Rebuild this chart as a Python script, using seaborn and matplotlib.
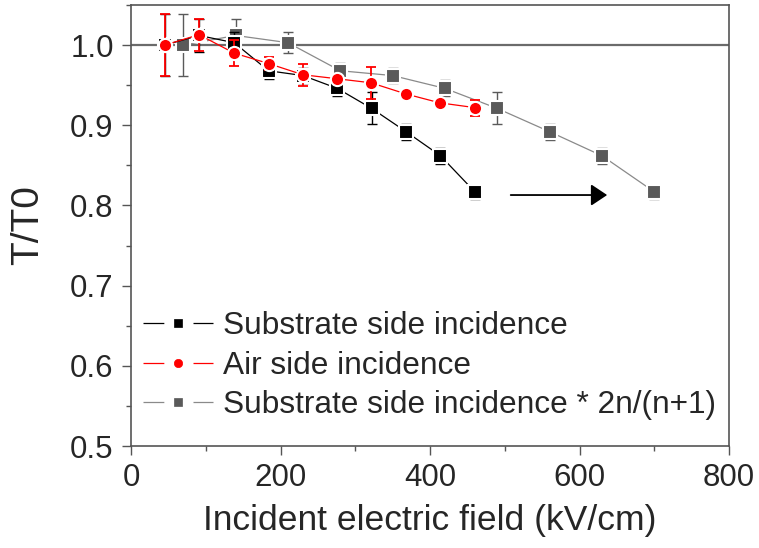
import matplotlib
matplotlib.use("Agg")
import matplotlib.pyplot as plt
import seaborn as sns
from matplotlib.lines import Line2D
from matplotlib.legend_handler import HandlerTuple
from matplotlib.ticker import MultipleLocator, FormatStrFormatter

# ---- data ----
sub_field = [45, 91, 138, 184, 230, 276, 322, 368, 414, 460]
sub_ratio = [1.000, 1.012, 1.003, 0.968, 0.962, 0.946, 0.921, 0.892, 0.862, 0.817]
sub_err = [0.039, 0.020, 0.013, 0.010, 0.009, 0.010, 0.020, 0.010, 0.010, 0.009]

air_field = [45, 91, 138, 184, 230, 276, 321, 368, 413, 460]
air_ratio = [1.000, 1.013, 0.990, 0.977, 0.963, 0.958, 0.953, 0.939, 0.928, 0.922]
air_err = [0.039, 0.020, 0.016, 0.008, 0.014, 0.004, 0.020, 0.003, 0.004, 0.010]

scaled_field = [70, 140, 210, 280, 350, 420, 490, 560, 630, 700]
scaled_ratio = [1.000, 1.012, 1.003, 0.968, 0.962, 0.946, 0.921, 0.892, 0.862, 0.817]
scaled_err = [0.039, 0.020, 0.013, 0.010, 0.009, 0.010, 0.020, 0.010, 0.010, 0.009]

labels = ["Substrate side incidence", "Air side incidence",
          "Substrate side incidence * 2n/(n+1)"]
arrow_start = (508, 0.813)
arrow_end = (637, 0.813)
reference_level = 1.0

# ---- style ----
sns.set_style("ticks")
plt.rcParams['font.family'] = ['Liberation Sans', 'DejaVu Sans']
plt.rcParams['lines.scale_dashes'] = False

fig = plt.figure(figsize=(7.59, 5.48), dpi=100)
ax = fig.add_axes([131/759, 1-446/548, (729-131)/759, (446-5)/548])

series = [
    # field, ratio, err, line color, marker color, marker, zorder, err width
    (scaled_field, scaled_ratio, scaled_err, "#8a8a8a", "#5a5a5a", "s", 3, 1.0),
    (sub_field, sub_ratio, sub_err, "#000000", "#000000", "s", 4, 1.0),
    (air_field, air_ratio, air_err, "#ff0000", "#ff0000", "o", 5, 1.3),
]

ax.axhline(reference_level, color="#6b6b6b", lw=1.6, zorder=1)

for fx, fy, fe, lc, mc, mk, z, ew in series:
    ax.errorbar(fx, fy, yerr=fe, fmt="none", ecolor=mc, elinewidth=ew,
                capsize=3.5, capthick=ew, zorder=z)
    sns.lineplot(x=fx, y=fy, ax=ax, color=lc, lw=0.9, sort=False,
                 zorder=z, legend=False)
    ax.plot(fx, fy, linestyle="none", marker=mk, markersize=9.5,
            markerfacecolor=mc, markeredgecolor="white", markeredgewidth=1.5,
            zorder=z + 0.5)

ax.annotate("", xy=arrow_end, xytext=arrow_start,
            arrowprops=dict(arrowstyle="-|>,head_length=0.45,head_width=0.3",
                            color="black", lw=1.3, mutation_scale=22,
                            shrinkA=0, shrinkB=0), zorder=6)

ax.set_xlim(0, 800)
ax.set_ylim(0.5, 1.05)
ax.xaxis.set_major_locator(MultipleLocator(200))
ax.xaxis.set_minor_locator(MultipleLocator(100))
ax.yaxis.set_major_locator(MultipleLocator(0.1))
ax.yaxis.set_minor_locator(MultipleLocator(0.05))
ax.yaxis.set_major_formatter(FormatStrFormatter("%.1f"))

for s in ax.spines.values():
    s.set_color("#555555")
    s.set_linewidth(1.2)
ax.tick_params(which="major", direction="out", length=6.5, width=1.0,
               color="#555555", labelsize=22.5, pad=6, top=False, right=False)
ax.tick_params(which="minor", direction="out", length=3.5, width=1.0,
               color="#555555", top=False, right=False)

ax.set_xlabel("Incident electric field (kV/cm)", fontsize=25.5, labelpad=8)
ax.set_ylabel("T/T0", fontsize=28, labelpad=17)

# legend handles in Origin style (line - marker - line)
handles = []
for (fx, fy, fe, lc, mc, mk, z, ew) in [series[1], series[2], series[0]]:
    ln = Line2D([], [], color=lc, lw=0.9, linestyle=(0, (15, 21, 15, 100)))
    mh = Line2D([], [], linestyle="none", marker=mk, markersize=6,
                markerfacecolor=mc, markeredgecolor=mc, markeredgewidth=0.5)
    handles.append((ln, mh))
leg = ax.legend(handles, labels, loc="upper left",
                bbox_to_anchor=(0.02, 0.305), frameon=False, fontsize=22.8,
                handlelength=2.21, handletextpad=0.32, labelspacing=0.29,
                borderaxespad=0, borderpad=0,
                handler_map={tuple: HandlerTuple(ndivide=1, pad=0)})

fig.savefig("out.png", dpi=100)
